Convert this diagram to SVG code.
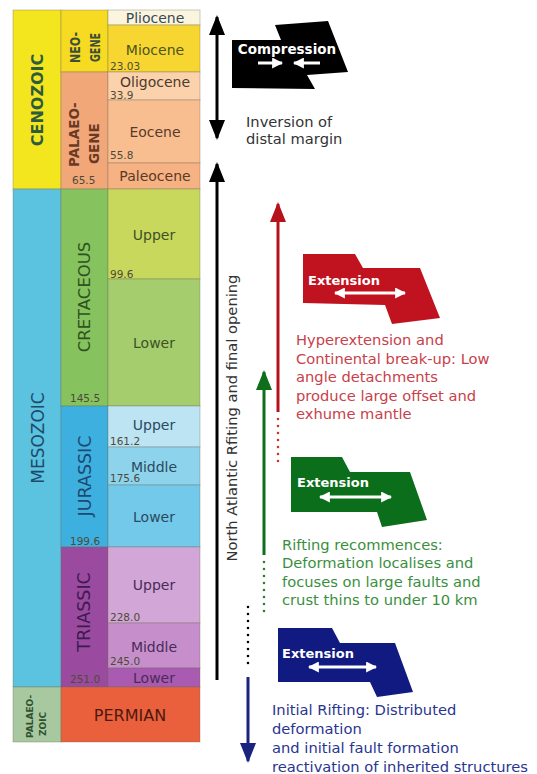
<svg xmlns="http://www.w3.org/2000/svg" width="537" height="774" viewBox="0 0 537 774">
<style>
text{font-family:"DejaVu Sans","Verdana",sans-serif}
.cell{stroke:#6b6b55;stroke-opacity:0.35;stroke-width:1}
.ep{font-size:14px;text-anchor:middle}
.num{font-size:10.5px;fill:#4d4a38}
.vt{text-anchor:middle;dominant-baseline:central}
.rt{font-size:14.7px}
.sh{font-size:13px;font-weight:bold;fill:#fff}
.wa{stroke:#fff;stroke-width:3;fill:none}
.dots{stroke-width:2.6;stroke-linecap:round;stroke-dasharray:0 7;fill:none}
.ln{stroke-width:3;fill:none}
</style>
<defs>
<marker id="hk" markerUnits="userSpaceOnUse" markerWidth="20" markerHeight="16" viewBox="0 0 20 16" refX="18" refY="8" orient="auto-start-reverse" preserveAspectRatio="none"><path d="M0,0 L20,8 L0,16 z" fill="#000"/></marker>
<marker id="hr" markerUnits="userSpaceOnUse" markerWidth="20" markerHeight="16" viewBox="0 0 20 16" refX="18" refY="8" orient="auto" preserveAspectRatio="none"><path d="M0,0 L20,8 L0,16 z" fill="#B5121B"/></marker>
<marker id="hg" markerUnits="userSpaceOnUse" markerWidth="20" markerHeight="16" viewBox="0 0 20 16" refX="18" refY="8" orient="auto" preserveAspectRatio="none"><path d="M0,0 L20,8 L0,16 z" fill="#0E6E1A"/></marker>
<marker id="hb" markerUnits="userSpaceOnUse" markerWidth="20" markerHeight="16" viewBox="0 0 20 16" refX="18" refY="8" orient="auto" preserveAspectRatio="none"><path d="M0,0 L20,8 L0,16 z" fill="#1A237E"/></marker>
<marker id="hw" markerUnits="userSpaceOnUse" markerWidth="11" markerHeight="11" viewBox="0 0 10 10" refX="9" refY="5" orient="auto-start-reverse" preserveAspectRatio="none"><path d="M0,0 L10,5 L0,10 z" fill="#fff"/></marker>
</defs>
<rect width="537" height="774" fill="#fff"/>

<g id="timescale">
  <g id="cenozoic">
    <rect class="cell" x="13" y="10" width="48" height="179" fill="#F4E61E"/>
    <text class="vt" transform="translate(37,100) rotate(-90)" font-size="16" font-weight="bold" fill="#2E5B3C">CENOZOIC</text>
  </g>
  <g id="neogene">
    <rect class="cell" x="61" y="10" width="47" height="62" fill="#F7DA22"/>
    <text transform="translate(80,63) rotate(-90)" font-size="13.5" font-weight="bold" fill="#3B4F3A" textLength="31" lengthAdjust="spacingAndGlyphs">NEO-</text>
    <text transform="translate(100,62) rotate(-90)" font-size="13.5" font-weight="bold" fill="#3B4F3A" textLength="29" lengthAdjust="spacingAndGlyphs">GENE</text>
  </g>
  <g id="palaeogene">
    <rect class="cell" x="61" y="72" width="47" height="117" fill="#F2A779"/>
    <text transform="translate(79,167) rotate(-90)" font-size="13.5" font-weight="bold" fill="#6B3A25">PALAEO-</text>
    <text transform="translate(99,164) rotate(-90)" font-size="13.5" font-weight="bold" fill="#6B3A25">GENE</text>
    <text class="num" x="72" y="184">65.5</text>
  </g>
  <g id="pliocene"><rect class="cell" x="108" y="10" width="92" height="15" fill="#FBF4DE"/><text class="ep" x="155" y="23" fill="#3A4A55">Pliocene</text></g>
  <g id="miocene"><rect class="cell" x="108" y="25" width="92" height="47" fill="#F8D631"/><text class="ep" x="155" y="55" fill="#4E5320">Miocene</text><text class="num" x="110" y="70">23.03</text></g>
  <g id="oligocene"><rect class="cell" x="108" y="72" width="92" height="28" fill="#FBD2AB"/><text class="ep" x="155" y="87" fill="#4A3A30">Oligocene</text><text class="num" x="110" y="98.5">33.9</text></g>
  <g id="eocene"><rect class="cell" x="108" y="100" width="92" height="63" fill="#F9BE90"/><text class="ep" x="155" y="137" fill="#5A3A28">Eocene</text><text class="num" x="110" y="159">55.8</text></g>
  <g id="paleocene"><rect class="cell" x="108" y="163" width="92" height="26" fill="#F7B283"/><text class="ep" x="155" y="181" fill="#5A3A28">Paleocene</text></g>

  <g id="mesozoic">
    <rect class="cell" x="13" y="189" width="48" height="498" fill="#5BC2E0"/>
    <text class="vt" transform="translate(38,438) rotate(-90)" font-size="17" fill="#1E4A6A">MESOZOIC</text>
  </g>
  <g id="cretaceous">
    <rect class="cell" x="61" y="189" width="47" height="217" fill="#86C35E"/>
    <text class="vt" transform="translate(84,297) rotate(-90)" font-size="16.5" fill="#2E5220">CRETACEOUS</text>
    <text class="num" x="70" y="402">145.5</text>
  </g>
  <g id="cret-upper"><rect class="cell" x="108" y="189" width="92" height="90" fill="#C8D85C"/><text class="ep" x="154" y="240" fill="#3E5225">Upper</text><text class="num" x="110" y="278">99.6</text></g>
  <g id="cret-lower"><rect class="cell" x="108" y="279" width="92" height="127" fill="#A5CD6E"/><text class="ep" x="154" y="348" fill="#3E5225">Lower</text></g>

  <g id="jurassic">
    <rect class="cell" x="61" y="406" width="47" height="141" fill="#3DB0E0"/>
    <text class="vt" transform="translate(85,476) rotate(-90)" font-size="17.5" fill="#1E4A70">JURASSIC</text>
    <text class="num" x="70" y="545">199.6</text>
  </g>
  <g id="jur-upper"><rect class="cell" x="108" y="406" width="92" height="41" fill="#BDE4F3"/><text class="ep" x="154" y="430" fill="#2A4A60">Upper</text><text class="num" x="110" y="445">161.2</text></g>
  <g id="jur-middle"><rect class="cell" x="108" y="447" width="92" height="38" fill="#8ED3EC"/><text class="ep" x="154" y="472" fill="#2A4A60">Middle</text><text class="num" x="110" y="482">175.6</text></g>
  <g id="jur-lower"><rect class="cell" x="108" y="485" width="92" height="62" fill="#72C9E9"/><text class="ep" x="154" y="522" fill="#2A4A60">Lower</text></g>

  <g id="triassic">
    <rect class="cell" x="61" y="547" width="47" height="140" fill="#9A4B9F"/>
    <text class="vt" transform="translate(84,612) rotate(-90)" font-size="17.5" fill="#3E1A50">TRIASSIC</text>
    <text class="num" x="70" y="683">251.0</text>
  </g>
  <g id="tri-upper"><rect class="cell" x="108" y="547" width="92" height="76" fill="#D2A6D6"/><text class="ep" x="154" y="590" fill="#4A2A5A">Upper</text><text class="num" x="110" y="621">228.0</text></g>
  <g id="tri-middle"><rect class="cell" x="108" y="623" width="92" height="45" fill="#C68FCB"/><text class="ep" x="154" y="652" fill="#4A2A5A">Middle</text><text class="num" x="110" y="665">245.0</text></g>
  <g id="tri-lower"><rect class="cell" x="108" y="668" width="92" height="19" fill="#A95BB1"/><text class="ep" x="154" y="683" fill="#4A2A5A">Lower</text></g>

  <g id="palaeozoic">
    <rect class="cell" x="13" y="687" width="48" height="55" fill="#A8C8A0"/>
    <text transform="translate(33,738) rotate(-90)" font-size="9" font-weight="bold" fill="#2E5230">PALAEO-</text>
    <text transform="translate(46,736) rotate(-90)" font-size="9" font-weight="bold" fill="#2E5230">ZOIC</text>
  </g>
  <g id="permian">
    <rect class="cell" x="61" y="687" width="139" height="55" fill="#EA5F3C"/>
    <text x="130" y="721" font-size="16" text-anchor="middle" fill="#4A1A10">PERMIAN</text>
  </g>
</g>

<g id="connectors">
  <path class="ln" d="M217,17 V138" stroke="#000" marker-start="url(#hk)" marker-end="url(#hk)"/>
  <path class="ln" d="M217,680 V164" stroke="#000" marker-end="url(#hk)"/>
  <path class="ln" d="M278,412 V204" stroke="#B5121B" marker-end="url(#hr)"/>
  <path class="dots" d="M278,419 V463" stroke="#C0392B"/>
  <path class="ln" d="M264,555 V372" stroke="#0E6E1A" marker-end="url(#hg)"/>
  <path class="dots" d="M264,562 V618" stroke="#2E7D32"/>
  <path class="dots" d="M248,607 V668" stroke="#000"/>
  <path class="ln" d="M248,677 V761" stroke="#1A237E" marker-end="url(#hb)"/>
  <text class="vt rt" transform="translate(231,418) rotate(-90)" fill="#333">North Atlantic Rfiting and final opening</text>
</g>

<g id="compression">
  <polygon points="232,40 281,40 275,25 328,21 348,72 307,75 315,89 232,88" fill="#000"/>
  <text x="287" y="54" font-size="13.5" font-weight="bold" fill="#fff" text-anchor="middle">Compression</text>
  <path class="wa" d="M258,63 H282" marker-end="url(#hw)"/>
  <path class="wa" d="M320,63 H294" marker-end="url(#hw)"/>
</g>
<g id="inversion-label">
  <text class="rt" x="246" y="127" fill="#333">Inversion of</text>
  <text class="rt" x="246" y="144" fill="#333">distal margin</text>
</g>

<g id="extension-red">
  <polygon points="303,254 355,254 363,268 420,268 440,318 392,324 385,305 303,303" fill="#C1121F"/>
  <text class="sh" x="308" y="285">Extension</text>
  <path class="wa" d="M335,293 H405" marker-start="url(#hw)" marker-end="url(#hw)"/>
</g>
<g id="label-red" class="rt" fill="#C8414A">
  <text x="296" y="345">Hyperextension and</text>
  <text x="296" y="363.5">Continental break-up: Low</text>
  <text x="296" y="382">angle detachments</text>
  <text x="296" y="400.5">produce large offset and</text>
  <text x="296" y="419">exhume mantle</text>
</g>

<g id="extension-green">
  <polygon points="291,457 342,457 350,472 410,472 427,520 382,527 377,512 291,512" fill="#0B6E1B"/>
  <text class="sh" x="297" y="487">Extension</text>
  <path class="wa" d="M320,497 H391" marker-start="url(#hw)" marker-end="url(#hw)"/>
</g>
<g id="label-green" class="rt" fill="#3A8F3E">
  <text x="282" y="550">Rifting recommences:</text>
  <text x="282" y="568">Deformation localises and</text>
  <text x="282" y="587">focuses on large faults and</text>
  <text x="282" y="605">crust thins to under 10 km</text>
</g>

<g id="extension-blue">
  <polygon points="278,628 332,628 340,643 395,643 413,692 377,697 370,682 278,682" fill="#101A80"/>
  <text class="sh" x="282" y="658">Extension</text>
  <path class="wa" d="M309,667 H376" marker-start="url(#hw)" marker-end="url(#hw)"/>
</g>
<g id="label-blue" class="rt" fill="#2A3590">
  <text x="272" y="715">Initial Rifting: Distributed</text>
  <text x="272" y="734">deformation</text>
  <text x="272" y="753">and initial fault formation</text>
  <text x="272" y="772">reactivation of inherited structures</text>
</g>
</svg>
